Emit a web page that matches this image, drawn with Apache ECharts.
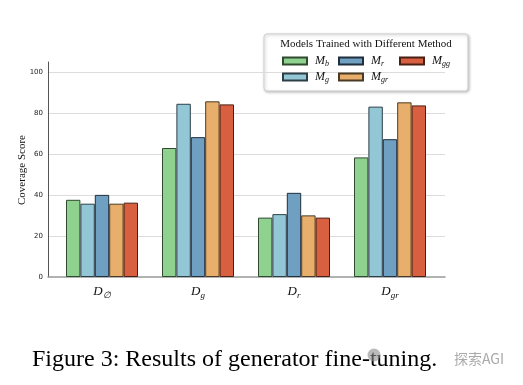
<!DOCTYPE html>
<html><head><meta charset="utf-8">
<script src="https://cdn.jsdelivr.net/npm/echarts@6/dist/echarts.min.js"></script>
<style>html,body{margin:0;padding:0;background:#fff}#c{width:523px;height:385px}</style>
</head><body><div id="c"></div>
<script>
var categories = ['D_∅', 'D_g', 'D_r', 'D_gr'];
var seriesNames = ['M_b', 'M_g', 'M_r', 'M_gr', 'M_gg'];
var M_b  = [37.7, 63.0, 29.0, 58.4];
var M_g  = [35.8, 84.6, 30.7, 83.2];
var M_r  = [40.1, 68.3, 41.1, 67.3];
var M_gr = [35.8, 85.8, 30.1, 85.3];
var M_gg = [36.3, 84.3, 29.0, 83.8];
var yTicks = [0, 20, 40, 60, 80, 100];
var colors = ['#8fd18f', '#93c7d6', '#6f9fc1', '#e8ae6b', '#d95f41'];
var borders = ['#2f4a2f', '#2c3f47', '#1f2f3d', '#4a3a24', '#4a1f14'];
var values = [M_b, M_g, M_r, M_gr, M_gg];

function sub(name) {
  var p = name.split('_');
  return '{m|' + p[0] + '}{s|' + p[1] + '}';
}
var serif = "'Liberation Serif', 'DejaVu Serif', serif";

var chart = echarts.init(document.getElementById('c'), null, {renderer: 'canvas'});
var series = seriesNames.map(function (n, i) {
  return {
    name: n, type: 'bar', xAxisIndex: 1, yAxisIndex: 1,
    data: values[i], barGap: '0%', barCategoryGap: '25%',
    itemStyle: {color: colors[i], borderColor: borders[i], borderWidth: 1},
    emphasis: {disabled: true}, animation: false
  };
});
series.push({type: 'bar', xAxisIndex: 0, yAxisIndex: 0, data: [], silent: true});

var legendRich = {
  m: {fontFamily: serif, fontStyle: 'italic', fontSize: 12, color: '#111', lineHeight: 14, padding: [0, 0, 0, 3]},
  s: {fontFamily: serif, fontStyle: 'italic', fontSize: 8, color: '#111', lineHeight: 14, padding: [6, 0, 0, 0]}
};
function legendCol(data, left) {
  return {
    data: data, orient: 'vertical', left: left, top: 54, itemWidth: 24, itemHeight: 7,
    itemGap: 2, selectedMode: false, padding: 0, icon: 'rect',
    formatter: function (n) { return sub(n); },
    textStyle: {rich: legendRich}
  };
}

chart.setOption({
  animation: false,
  grid: [
    {left: 48, width: 397, top: 62, bottom: 108, outerBoundsMode: 'none', containLabel: false},
    {left: 54, width: 384, top: 62, bottom: 108, outerBoundsMode: 'none', containLabel: false}
  ],
  xAxis: [
    {type: 'category', gridIndex: 0, data: ['a'], axisLine: {show: true, lineStyle: {color: '#999', width: 1.5}},
     axisTick: {show: false}, axisLabel: {show: false}, splitLine: {show: false}},
    {type: 'category', gridIndex: 1, data: categories, axisLine: {show: false}, axisTick: {show: false},
     axisLabel: {margin: 7, formatter: function (v) { return sub(v); },
       rich: {
         m: {fontFamily: serif, fontStyle: 'italic', fontSize: 13, color: '#111', lineHeight: 16},
         s: {fontFamily: serif, fontStyle: 'italic', fontSize: 9, color: '#111', lineHeight: 16, padding: [7, 0, 0, 0]}
       }}}
  ],
  yAxis: [
    {type: 'value', gridIndex: 0, min: 0, max: 105, interval: 20,
     axisLine: {show: true, lineStyle: {color: '#555', width: 1}},
     axisTick: {show: false},
     axisLabel: {showMaxLabel: false, margin: 5, fontSize: 7, color: '#222', fontFamily: "'DejaVu Sans', sans-serif",
       formatter: function (v) { return yTicks.indexOf(v) >= 0 ? String(v) : ''; }},
     splitLine: {show: true, showMinLine: false, showMaxLine: false, lineStyle: {color: '#dcdcdc', width: 1}}},
    {type: 'value', gridIndex: 1, min: 0, max: 105, interval: 20, show: false, splitLine: {show: false}}
  ],
  legend: [
    legendCol(['M_b', 'M_g'], 282),
    legendCol(['M_r', 'M_gr'], 338),
    legendCol(['M_gg'], 399)
  ],
  graphic: [
    {type: 'rect', z: 0, shape: {x: 264, y: 34, width: 204, height: 57, r: 3},
     style: {fill: '#fff', stroke: '#cfcfcf', lineWidth: 1, shadowBlur: 3, shadowOffsetX: 1, shadowOffsetY: 1, shadowColor: 'rgba(0,0,0,0.25)'}},
    {type: 'text', z: 10, x: 366, y: 44, style: {text: 'Models Trained with Different Method', font: "11px 'Liberation Serif', serif", fill: '#111', textAlign: 'center', textVerticalAlign: 'middle'}},
    {type: 'text', x: 22, y: 170, rotation: Math.PI / 2, style: {text: 'Coverage Score', font: "11px 'Liberation Serif', serif", fill: '#111', textAlign: 'center', textVerticalAlign: 'middle'}},
    {type: 'text', x: 32, y: 360, style: {text: 'Figure 3: Results of generator fine-tuning.', font: "24px 'Liberation Serif', serif", fill: '#000', textAlign: 'left', textVerticalAlign: 'middle'}},
    {type: 'circle', z: 5, shape: {cx: 374, cy: 355, r: 6.5}, style: {fill: 'rgba(140,140,140,0.6)'}},
    {type: 'text', x: 454, y: 359, style: {text: '探索AGI', font: "14px 'Noto Sans CJK SC', sans-serif", fill: '#aaa', textAlign: 'left', textVerticalAlign: 'middle'}}
  ],
  series: series
});
</script></body></html>
